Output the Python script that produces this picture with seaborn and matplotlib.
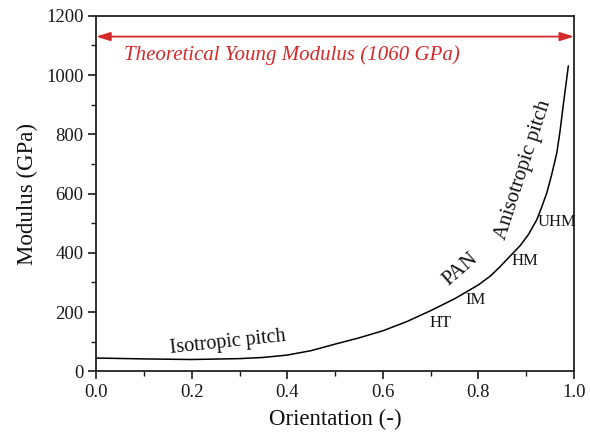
import matplotlib
matplotlib.use("Agg")
import matplotlib.pyplot as plt
import seaborn as sns
import pandas as pd
from matplotlib.ticker import MultipleLocator

orientation = [0.0, 0.1, 0.2, 0.3, 0.35, 0.4, 0.45, 0.5, 0.55, 0.6, 0.65, 0.7, 0.75, 0.8, 0.825,
               0.845, 0.865, 0.887, 0.905, 0.922, 0.932, 0.943, 0.953, 0.964, 0.971, 0.978, 0.983, 0.988]
modulus = [45, 42, 40, 43, 47, 55, 70, 92, 113, 137, 168, 205, 245, 292, 322,
           353, 387, 424, 463, 512, 553, 603, 663, 738, 815, 907, 968, 1031]

theoretical_label = "Theoretical Young Modulus (1060 GPa)"
theoretical_arrow_y = 1130

labels = ["Isotropic pitch", "PAN", "Anisotropic pitch", "HT", "IM", "HM", "UHM"]
label_x = [0.276, 0.762, 0.894, 0.72, 0.793, 0.897, 0.964]
label_y = [97, 343, 681, 164, 242, 372, 503]
label_rot = [6, 41, 72, 0, 0, 0, 0]
label_size = [14.5, 15, 15, 12, 12, 12, 12]

sns.set_theme(style="ticks")
plt.rcParams["font.family"] = ["Liberation Serif", "DejaVu Serif"]

fig = plt.figure(figsize=(5.9, 4.4), dpi=100)
ax = fig.add_axes([0.163, 0.156, 0.81, 0.808])

df = pd.DataFrame({"Orientation": orientation, "Modulus": modulus})
sns.lineplot(data=df, x="Orientation", y="Modulus", ax=ax, color="black", linewidth=1.1)

ax.set_xlim(0, 1.0)
ax.set_ylim(0, 1200)
ax.xaxis.set_major_locator(MultipleLocator(0.2))
ax.xaxis.set_minor_locator(MultipleLocator(0.1))
ax.yaxis.set_major_locator(MultipleLocator(200))
ax.yaxis.set_minor_locator(MultipleLocator(100))
ax.set_xticklabels([f"{v:.1f}" for v in ax.get_xticks()])
ax.tick_params(which="major", direction="out", length=6, width=1.2, labelsize=13.5, colors="#1a1a1a", pad=3)
ax.tick_params(which="minor", direction="out", length=3.5, width=1.0, colors="#1a1a1a")
for s in ax.spines.values():
    s.set_visible(True)
    s.set_linewidth(1.3)
    s.set_color("#222222")

ax.set_xlabel("Orientation (-)", fontsize=16.5, labelpad=6, color="#111111")
ax.set_ylabel("Modulus (GPa)", fontsize=16.5, labelpad=6, color="#111111")

red = "#d42a2a"
ax.annotate("", xy=(1.0, theoretical_arrow_y), xytext=(0.0, theoretical_arrow_y),
            arrowprops=dict(arrowstyle="<|-|>,head_length=0.7,head_width=0.22", color=red, lw=1.3,
                            shrinkA=0, shrinkB=0))
ax.text(0.41, 1068, theoretical_label, color=red, fontsize=15, style="italic",
        ha="center", va="center")

for t, x, y, r, fs in zip(labels, label_x, label_y, label_rot, label_size):
    ax.text(x, y, t, rotation=r, fontsize=fs, ha="center", va="center",
            rotation_mode="anchor", color="#111111")

fig.savefig("out.png", dpi=100)
